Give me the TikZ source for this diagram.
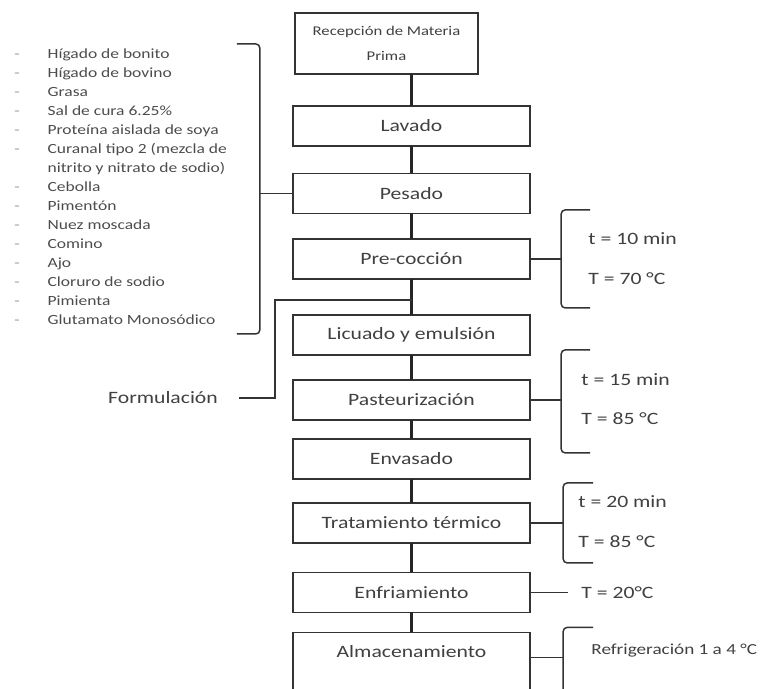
\documentclass[tikz,border=0pt]{standalone}
\usepackage{fontspec}
\setmainfont[FakeStretch=1.25]{Carlito}
\usetikzlibrary{positioning}
\tikzstyle{paso} = [rectangle, draw=black!80, line width=1.3pt, text=black!75,
    minimum width=178pt, minimum height=30pt, inner sep=0pt, outer sep=0pt,
    font=\fontsize{13}{15}\selectfont]
\tikzstyle{llave} = [draw=black!80, line width=1.1pt, rounded corners=3pt]
\tikzstyle{flujo} = [draw=black!85, line width=2pt]
\tikzstyle{dato} = [anchor=west, inner sep=0pt, text=black!75,
    font=\fontsize{13}{15}\selectfont]

\begin{document}
\begin{tikzpicture}[x=0.75pt,y=-0.75pt]
  \useasboundingbox (0,0) rectangle (765,689);

  % pasos del proceso
  \node[paso, minimum width=137pt, minimum height=46pt, align=center,
        font=\fontsize{10}{18.75}\selectfont] (rec) at (386.5,43.5)
        {Recepción de Materia\\Prima};
  \node[paso] (lav) at (411.5,126) {Lavado};
  \node[paso] (pes) [below=20.6pt of lav] {Pesado};
  \node[paso] (pre) [below=19.1pt of pes] {Pre-cocción};
  \node[paso] (lic) [below=27pt of pre] {Licuado y emulsión};
  \node[paso] (pas) [below=18.75pt of lic] {Pasteurización};
  \node[paso] (env) [below=14.25pt of pas] {Envasado};
  \node[paso] (tra) [below=18pt of env] {Tratamiento térmico};
  \node[paso] (enf) [below=22.1pt of tra] {Enfriamiento};
  \node[paso, text height=18.75pt, text depth=36pt] (alm) [below=15pt of enf] {Almacenamiento};

  \draw[flujo] (lav.north |- rec.south) -- (lav.north);
  \foreach \a/\b in {lav/pes, pes/pre, pre/lic, lic/pas, pas/env, env/tra, tra/enf, enf/alm}
    \draw[flujo] (\a.south) -- (\b.north);

  % ingredientes
  \node[anchor=north west, inner sep=0pt, text=black!70,
        font=\fontsize{10.5}{14.25}\selectfont] (ingr) at (14,44.7) {%
    \begin{tabular}{@{}l@{\hspace{21pt}}l@{}}
      \textcolor{black!40}{-} & Hígado de bonito\\
      \textcolor{black!40}{-} & Hígado de bovino\\
      \textcolor{black!40}{-} & Grasa\\
      \textcolor{black!40}{-} & Sal de cura 6.25\%\\
      \textcolor{black!40}{-} & Proteína aislada de soya\\
      \textcolor{black!40}{-} & Curanal tipo 2 (mezcla de\\
                              & nitrito y nitrato de sodio)\\
      \textcolor{black!40}{-} & Cebolla\\
      \textcolor{black!40}{-} & Pimentón\\
      \textcolor{black!40}{-} & Nuez moscada\\
      \textcolor{black!40}{-} & Comino\\
      \textcolor{black!40}{-} & Ajo\\
      \textcolor{black!40}{-} & Cloruro de sodio\\
      \textcolor{black!40}{-} & Pimienta\\
      \textcolor{black!40}{-} & Glutamato Monosódico
    \end{tabular}};
  \draw[llave] (pes.west) -- ++(-33,0) coordinate (lpes);
  \draw[llave] (lpes) ++(-23,-149.5) -- ++(23,0) -- ++(0,290) -- ++(-23,0);

  % formulacion
  \node[dato, anchor=center] (form) at (163,398) {Formulación};
  \coordinate (union) at ([yshift=-15.75pt]pre.south);
  \draw[llave, rounded corners=0pt] ([xshift=15.75pt]form.east) -- ++(36,0) |- (union);

  % condiciones
  \draw[llave] (pre.east) -- ++(31,0) coordinate (lpre);
  \draw[llave] (lpre) ++(29,-49) -- ++(-29,0) -- ++(0,98) -- ++(29,0);
  \node[dato] (t-pre) at ([shift={(27,-20)}]lpre) {t = 10 min};
  \node[dato] (T-pre) at ([shift={(27,20)}]lpre) {T = 70 °C};

  \draw[llave] (pas.east) -- ++(31,0) coordinate (lpas);
  \draw[llave] (lpas) ++(29,-50) -- ++(-29,0) -- ++(0,103) -- ++(29,0);
  \node[dato] (t-pas) at ([shift={(20,-20)}]lpas) {t = 15 min};
  \node[dato] (T-pas) at ([shift={(20,19)}]lpas) {T = 85 °C};

  \draw[llave] (tra.east) -- ++(33,0) coordinate (ltra);
  \draw[llave] (ltra) ++(30,-40) -- ++(-30,0) -- ++(0,80) -- ++(30,0);
  \node[dato] (t-tra) at ([shift={(15,-21)}]ltra) {t = 20 min};
  \node[dato] (T-tra) at ([shift={(15,19)}]ltra) {T = 85 °C};

  \draw[llave] (enf.east) -- ++(38,0) coordinate (lenf);
  \node[dato] (T-enf) at ([shift={(13,0)}]lenf) {T = 20°C};

  \draw[llave] (alm.base east) -- ++(33,0) coordinate (lalm);
  \draw[llave] (lalm) ++(30,-30) -- ++(-30,0) -- ++(0,75) -- ++(30,0);
  \node[dato, font=\fontsize{11.5}{13}\selectfont] (T-alm) at ([shift={(28,-7)}]lalm) {Refrigeración 1 a 4 °C};
\end{tikzpicture}
\end{document}
